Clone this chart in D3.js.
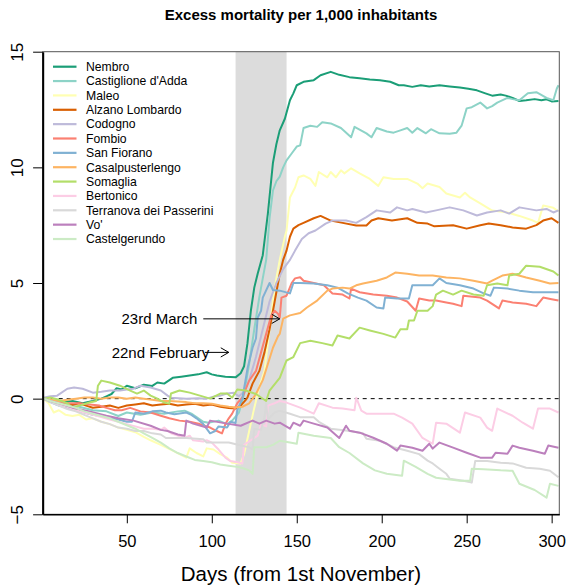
<!DOCTYPE html>
<html>
<head>
<meta charset="utf-8">
<script src="https://cdn.jsdelivr.net/npm/d3@7"></script>
<style>
  body { margin: 0; background: #fff; }
  svg { display: block; }
  text { font-family: "Liberation Sans", Arial, Helvetica, sans-serif; fill: #000; }
</style>
</head>
<body>
<svg id="chart" width="567" height="586"></svg>
<script>
// Cumulative excess mortality per 1,000 inhabitants, by day since 1 November.
// Each series is a list of [day, value] readings.
const municipalities = [
  "Nembro", "Castiglione d'Adda", "Maleo", "Alzano Lombardo", "Codogno", "Fombio",
  "San Fiorano", "Casalpusterlengo", "Somaglia", "Bertonico",
  "Terranova dei Passerini", "Vo'", "Castelgerundo"
];
const palette = [
  "#1B9E77", "#8DD3C7", "#FFFFB3", "#D95F02", "#BEBADA", "#FB8072",
  "#80B1D3", "#FDB462", "#B3DE69", "#FCCDE5", "#D9D9D9", "#BC80BD", "#CCEBC5"
];

const nembro = [[1,0],[6,-0.1],[12,-0.15],[18,-0.1],[24,-0.2],[30,-0.1],[35,0.0],[38,0.1],[41,0.2],[44,0.45],[47,0.4],[50,0.56],[55,0.45],[60,0.6],[65,0.55],[68,0.7],[72,0.65],[77,0.9],[82,0.95],[87,1.0],[92,1.05],[97,1.14],[100,1.05],[103,1.0],[108,0.95],[114,0.92],[117,1.1],[119,1.4],[121,2.4],[123,3.8],[125,4.8],[127,5.4],[130,6.2],[133,8.0],[136,10.2],[138,11.0],[140,11.6],[143,12.1],[146,12.9],[148,13.2],[150,13.55],[154,13.7],[160,13.77],[164,13.98],[170,14.13],[175,14.0],[181,13.9],[187,13.85],[193,13.8],[199,13.77],[205,13.7],[210,13.55],[213,13.55],[218,13.48],[223,13.55],[228,13.5],[234,13.55],[240,13.5],[246,13.45],[251,13.4],[256,13.33],[261,13.2],[265,13.1],[270,13.15],[273,13.1],[277,13.0],[281,12.87],[285,12.9],[290,12.95],[294,12.9],[297,12.94],[300,12.85],[304,12.87]];

const castiglione = [[1,0],[8,-0.15],[15,-0.3],[22,-0.35],[30,-0.5],[38,-0.55],[45,-0.75],[50,-0.6],[58,-0.7],[65,-0.6],[72,-0.65],[80,-0.55],[84,-0.52],[88,-0.65],[91,-0.8],[95,-1.0],[98,-1.04],[104,-0.95],[109,-1.1],[112,-0.95],[116,-0.6],[119,0.2],[122,1.5],[125,3.0],[128,4.4],[130,5.2],[132,6.0],[134,7.8],[136,9.0],[138,9.4],[140,9.6],[142,10.0],[144,10.3],[147,10.6],[150,10.9],[152,10.95],[154,11.7],[158,11.8],[162,11.75],[165,11.95],[170,11.9],[176,11.7],[182,11.3],[184,11.75],[191,11.47],[194,11.3],[197,11.7],[203,11.55],[207,11.5],[211,11.6],[215,11.7],[218,11.5],[221,11.7],[226,11.47],[229,11.65],[234,11.47],[240,11.45],[244,11.5],[247,11.8],[250,12.55],[253,12.6],[258,12.8],[262,12.55],[265,12.65],[268,12.8],[274,13.0],[277,12.95],[281,12.9],[286,13.2],[291,13.25],[297,13.0],[301,12.9],[303,13.4],[304,13.55]];

const maleo = [[1,0],[4,-0.2],[7,-0.6],[10,-0.5],[14,-0.7],[18,-0.75],[22,-0.7],[26,-0.9],[30,-0.85],[35,-1.0],[40,-1.1],[45,-1.25],[50,-1.35],[55,-1.45],[60,-1.65],[64,-1.8],[70,-2.0],[77,-2.25],[81,-2.4],[85,-2.55],[87,-2.15],[91,-2.35],[95,-2.5],[97,-2.15],[101,-2.2],[105,-2.4],[109,-2.55],[112,-2.77],[117,-2.8],[119,-2.4],[122,-1.4],[125,-0.4],[128,0.5],[131,1.2],[134,3.0],[137,4.8],[140,6.0],[143,7.0],[144,7.27],[146,8.7],[149,9.13],[151,9.57],[154,9.65],[158,9.5],[161,9.2],[163,9.8],[168,9.57],[170,9.8],[173,9.57],[176,9.87],[178,9.74],[182,9.96],[187,9.74],[193,9.5],[198,9.2],[201,9.57],[207,9.5],[215,9.5],[221,9.3],[224,9.1],[227,9.3],[234,9.15],[238,8.87],[246,8.7],[249,8.9],[252,8.7],[258,8.44],[265,8.13],[274,8.05],[281,7.9],[289,7.7],[292,7.6],[295,8.35],[301,8.25],[304,8.1]];

const alzano = [[1,0],[5,-0.1],[10,-0.15],[14,-0.2],[18,-0.26],[22,-0.2],[26,-0.3],[30,-0.39],[35,-0.35],[40,-0.3],[45,-0.4],[50,-0.3],[55,-0.25],[60,-0.2],[65,-0.3],[70,-0.25],[75,-0.22],[80,-0.3],[85,-0.25],[90,-0.22],[95,-0.3],[100,-0.25],[105,-0.35],[110,-0.4],[114,-0.43],[117,-0.3],[120,-0.05],[121,0.05],[124,0.65],[128,1.2],[131,2.0],[134,3.0],[137,4.2],[140,5.4],[142,6.0],[144,6.4],[146,7.0],[148,7.35],[151,7.5],[154,7.6],[160,7.8],[164,7.9],[170,7.7],[177,7.6],[185,7.49],[191,7.49],[194,7.7],[198,7.8],[206,7.7],[215,7.8],[221,7.6],[227,7.57],[231,7.45],[242,7.5],[250,7.35],[258,7.5],[263,7.57],[270,7.5],[277,7.4],[285,7.35],[291,7.5],[295,7.7],[300,7.8],[304,7.6]];

const codogno = [[1,0.04],[5,0.1],[9,0.13],[15,0.43],[19,0.48],[24,0.43],[30,0.26],[35,0.3],[40,0.35],[46,0.35],[50,0.4],[54,0.43],[58,0.56],[64,0.48],[70,0.35],[74,0.13],[76,0.04],[85,0.0],[92,0.02],[97,0.0],[102,0.1],[105,0.13],[109,0.22],[113,0.25],[116,0.1],[119,0.3],[122,0.8],[126,1.8],[130,3.0],[134,4.2],[138,5.0],[142,5.6],[146,6.0],[149,6.4],[153,6.9],[157,7.15],[161,7.27],[167,7.57],[171,7.7],[179,7.7],[185,7.6],[191,7.85],[197,8.14],[205,8.05],[209,8.27],[215,8.14],[218,8.2],[226,8.05],[232,8.14],[240,8.27],[248,8.14],[256,7.92],[262,8.05],[270,8.14],[275,8.0],[281,8.27],[291,8.14],[297,8.2],[301,8.05],[304,8.14]];

const fombio = [[1,0],[5,-0.1],[10,-0.15],[15,-0.2],[22,-0.2],[28,-0.25],[34,-0.3],[38,-0.4],[43,-0.5],[47,-0.5],[52,-0.4],[58,-0.55],[64,-0.6],[70,-0.74],[75,-0.85],[81,-0.95],[87,-1.0],[93,-1.1],[99,-1.25],[103,-1.4],[106,-1.5],[108,-1.1],[110,-0.85],[112,-0.65],[115,-0.2],[118,0.05],[122,0.78],[126,1.2],[129,2.0],[132,2.8],[135,3.6],[137,3.8],[139,3.67],[140,3.5],[141,4.37],[144,4.45],[147,5.0],[149,5.2],[152,5.25],[154,5.1],[160,5.0],[166,4.9],[171,4.55],[177,4.5],[181,4.33],[182,4.76],[187,4.6],[195,4.5],[203,4.45],[209,4.37],[215,4.2],[220,3.8],[222,4.33],[228,4.24],[232,4.24],[238,4.16],[242,4.1],[247,4.0],[248,4.45],[258,4.37],[262,4.24],[269,3.9],[271,4.24],[277,4.16],[285,4.1],[291,4.0],[295,4.37],[300,4.3],[304,4.24]];

const sanFiorano = [[1,0],[5,-0.15],[10,-0.3],[15,-0.4],[20,-0.5],[25,-0.6],[30,-0.7],[35,-0.75],[40,-0.85],[45,-0.9],[50,-1.0],[53,-1.0],[55,-0.6],[60,-0.65],[65,-0.55],[70,-0.52],[73,-0.6],[78,-0.67],[85,-0.6],[88,-0.7],[91,-0.85],[95,-1.1],[99,-1.5],[102,-1.4],[104,-1.2],[109,-1.25],[111,-1.0],[114,-1.05],[115,-0.5],[118,0.0],[121,1.3],[124,2.2],[126,2.6],[127,3.5],[129,3.8],[130,4.37],[134,5.0],[136,4.7],[140,4.67],[146,4.55],[148,5.0],[152,5.0],[160,4.98],[168,4.9],[174,4.8],[180,4.55],[186,4.37],[191,4.24],[197,3.94],[201,3.9],[202,4.37],[209,4.33],[216,4.33],[218,4.9],[222,4.9],[230,4.9],[234,5.2],[238,5.0],[246,4.9],[254,4.76],[260,4.55],[264,4.45],[266,4.8],[274,4.76],[281,4.67],[289,4.6],[297,4.6],[304,4.6]];

const casalpusterlengo = [[1,0],[5,-0.05],[10,-0.1],[15,-0.05],[20,0.0],[25,0.05],[30,0.05],[35,0.0],[40,0.05],[45,0.05],[50,0.0],[55,0.05],[60,0.0],[65,-0.05],[70,-0.1],[75,-0.1],[80,-0.12],[85,-0.15],[90,-0.2],[95,-0.2],[100,-0.22],[105,-0.3],[110,-0.35],[114,-0.38],[118,-0.35],[122,-0.2],[126,0.2],[130,0.8],[133,1.5],[136,2.2],[139,2.7],[140,2.8],[142,3.46],[146,3.6],[152,3.7],[156,3.94],[162,4.24],[168,4.67],[171,4.76],[177,4.8],[181,4.76],[185,4.9],[189,4.98],[197,5.1],[203,5.24],[208,5.45],[215,5.4],[222,5.32],[230,5.32],[238,5.24],[246,5.2],[254,5.1],[262,4.98],[265,5.1],[271,5.32],[277,5.4],[285,5.24],[293,5.1],[299,4.98],[304,5.0]];

const somaglia = [[1,0],[5,0.05],[10,-0.05],[15,-0.2],[18,-0.39],[22,-0.3],[28,-0.17],[32,-0.1],[33,0.56],[35,0.78],[40,0.7],[46,0.56],[52,0.35],[56,0.22],[60,0.35],[64,0.13],[68,0.0],[72,-0.17],[75,-0.22],[76,0.22],[81,0.35],[87,0.26],[93,0.13],[99,0.0],[105,0.22],[109,0.22],[112,0.04],[115,0.4],[120,0.35],[126,0.2],[132,-0.1],[134,0.35],[140,0.9],[144,1.65],[148,1.8],[152,2.4],[158,2.5],[165,2.4],[171,2.3],[174,2.73],[181,2.6],[187,3.07],[193,2.95],[201,2.8],[208,2.64],[211,3.0],[215,3.0],[216,3.38],[219,3.38],[221,3.8],[227,3.8],[230,4.0],[232,4.5],[236,4.67],[242,4.5],[247,4.67],[254,4.5],[260,4.45],[262,4.9],[268,4.98],[274,4.9],[275,5.32],[281,5.4],[285,5.75],[293,5.7],[301,5.5],[304,5.32]];

const bertonico = [[1,0],[5,-0.1],[10,-0.25],[15,-0.35],[20,-0.5],[25,-0.6],[30,-0.7],[35,-0.8],[40,-0.9],[45,-1.0],[50,-1.1],[55,-1.2],[60,-1.3],[65,-1.3],[70,-1.35],[72,-1.25],[76,-1.5],[80,-1.6],[84,-1.7],[87,-1.6],[89,-1.8],[95,-1.85],[97,-1.8],[100,-1.9],[104,-2.2],[108,-2.55],[111,-2.7],[115,-2.75],[118,-2.8],[119,-2.0],[123,-1.8],[127,-1.6],[129,-1.1],[132,-1.2],[133,-0.3],[137,-0.2],[140,-0.1],[144,-0.17],[152,-0.39],[160,-0.65],[163,-0.2],[171,-0.39],[177,-0.43],[184,-0.5],[185,0.04],[188,-0.52],[191,-0.65],[199,-0.65],[207,-0.65],[212,-0.82],[218,-1.08],[224,-1.7],[230,-1.95],[232,-1.04],[238,-1.08],[246,-1.47],[249,-0.6],[258,-0.82],[262,-1.25],[265,-1.39],[268,-0.43],[277,-0.74],[283,-1.04],[289,-1.3],[292,-0.43],[299,-0.43],[304,-0.6]];

const terranova = [[1,0],[5,-0.15],[10,-0.3],[15,-0.45],[20,-0.55],[25,-0.7],[30,-0.85],[35,-1.0],[40,-1.1],[45,-1.25],[50,-1.3],[55,-1.4],[60,-1.4],[65,-1.5],[70,-1.55],[73,-1.7],[85,-1.7],[95,-1.75],[97,-1.9],[110,-1.9],[116,-2.0],[122,-2.1],[124,-2.2],[125,-1.3],[129,-1.35],[131,-0.8],[132,-0.2],[133,-0.9],[137,-0.6],[140,-0.52],[146,-0.65],[152,-0.8],[160,-0.8],[163,-1.0],[170,-1.3],[180,-1.39],[189,-1.5],[191,-1.73],[199,-1.82],[207,-2.1],[215,-2.25],[222,-2.4],[227,-2.68],[230,-2.8],[234,-3.03],[238,-3.25],[240,-3.46],[248,-3.55],[253,-3.63],[255,-2.7],[262,-2.7],[270,-2.77],[277,-2.8],[285,-2.99],[293,-3.03],[299,-3.12],[304,-3.4]];

const vo = [[1,0],[5,-0.1],[10,-0.2],[18,-0.39],[28,-0.55],[38,-0.74],[45,-0.85],[54,-0.95],[64,-1.17],[70,-1.35],[74,-1.4],[80,-1.55],[84,-1.6],[85,-0.95],[89,-1.08],[97,-1.25],[99,-0.95],[109,-1.08],[117,-1.17],[124,-0.95],[128,-1.08],[132,-0.95],[137,-1.08],[140,-1.04],[146,-1.3],[148,-1.04],[152,-1.17],[154,-0.95],[160,-1.08],[168,-1.25],[175,-1.7],[179,-1.17],[181,-1.39],[187,-1.47],[195,-1.69],[203,-1.95],[209,-2.25],[211,-2.03],[218,-2.12],[224,-2.25],[228,-1.95],[230,-2.16],[234,-1.9],[242,-2.12],[250,-2.34],[258,-2.55],[265,-2.55],[267,-2.34],[274,-2.38],[277,-2.03],[281,-2.12],[289,-2.25],[296,-2.38],[298,-2.03],[304,-2.12]];

const castelgerundo = [[1,0],[5,-0.1],[10,-0.2],[15,-0.3],[20,-0.4],[25,-0.55],[30,-0.65],[35,-0.75],[40,-0.85],[45,-1.0],[50,-1.15],[55,-1.3],[60,-1.5],[65,-1.7],[70,-1.9],[75,-2.15],[80,-2.35],[85,-2.5],[90,-2.65],[95,-2.7],[100,-2.75],[105,-2.85],[110,-2.9],[115,-2.95],[118,-3.0],[122,-3.1],[124,-3.25],[125,-2.1],[132,-2.1],[136,-2.0],[140,-1.82],[146,-1.9],[150,-1.95],[151,-1.47],[160,-1.6],[170,-1.7],[175,-2.1],[181,-2.35],[189,-2.8],[196,-3.1],[203,-3.25],[212,-3.33],[213,-2.68],[220,-2.95],[227,-3.25],[232,-3.42],[246,-3.55],[252,-3.55],[253,-3.03],[260,-3.05],[270,-3.1],[277,-3.12],[281,-3.68],[290,-3.95],[297,-4.28],[299,-3.68],[304,-3.77]];

const seriesValues = [nembro, castiglione, maleo, alzano, codogno, fombio, sanFiorano,
  casalpusterlengo, somaglia, bertonico, terranova, vo, castelgerundo];

const xTicks = [50, 100, 150, 200, 250, 300];
const yTicks = [-5, 0, 5, 10, 15];
const xDomain = [0.5, 304.5];
const yDomain = [-5, 15];
const lockdownWindow = [114, 144];   // 22 February to 23 March
const annotations = [
  { label: "22nd February", y: 2.0, from: 96, to: 110, textAt: 98.5 },
  { label: "23rd March",    y: 3.45, from: 95, to: 140, textAt: 91.5 }
];

const svg = d3.select("#chart");
const plotLeft = 42.7, plotRight = 559.3, plotTop = 51.7, plotBottom = 514.3;
const x = d3.scaleLinear().domain(xDomain).range([plotLeft, plotRight]);
const y = d3.scaleLinear().domain(yDomain).range([plotBottom, plotTop]);

svg.append("defs").append("clipPath").attr("id", "plot-clip")
  .append("rect").attr("x", plotLeft).attr("y", plotTop)
  .attr("width", plotRight - plotLeft).attr("height", plotBottom - plotTop);

// shaded period
svg.append("rect")
  .attr("x", x(lockdownWindow[0])).attr("y", plotTop)
  .attr("width", x(lockdownWindow[1]) - x(lockdownWindow[0]))
  .attr("height", plotBottom - plotTop)
  .attr("fill", "#DCDCDC");

// zero reference
svg.append("line")
  .attr("x1", plotLeft).attr("x2", plotRight)
  .attr("y1", y(0)).attr("y2", y(0))
  .attr("stroke", "#000").attr("stroke-width", 1)
  .attr("stroke-dasharray", "4,4");

// series
const line = d3.line().x(d => x(d[0])).y(d => y(d[1]));
svg.append("g").attr("clip-path", "url(#plot-clip)")
  .selectAll("path").data(seriesValues).join("path")
  .attr("d", line)
  .attr("fill", "none")
  .attr("stroke", (d, i) => palette[i])
  .attr("stroke-width", 2)
  .attr("stroke-linejoin", "round");

// plot box
svg.append("rect")
  .attr("x", plotLeft).attr("y", plotTop)
  .attr("width", plotRight - plotLeft).attr("height", plotBottom - plotTop)
  .attr("fill", "none").attr("stroke", "#555").attr("stroke-width", 1);

// axes
const xAxis = svg.append("g").attr("transform", `translate(0,${plotBottom})`)
  .call(d3.axisBottom(x).tickValues(xTicks).tickSize(9).tickSizeOuter(0).tickPadding(12));
xAxis.select(".domain").attr("stroke", "#000").attr("stroke-width", 1.5);
xAxis.selectAll(".tick line").attr("stroke", "#000");
xAxis.selectAll("text").attr("font-size", 16.5).attr("font-family", null);

const yAxis = svg.append("g").attr("transform", `translate(${plotLeft},0)`)
  .call(d3.axisLeft(y).tickValues(yTicks).tickSize(9.6).tickSizeOuter(0).tickFormat(d3.format("d")));
yAxis.select(".domain").attr("stroke", "#000").attr("stroke-width", 2);
yAxis.selectAll(".tick line").attr("stroke", "#000");
yAxis.selectAll("text")
  .attr("font-size", 17).attr("font-family", null)
  .attr("x", null).attr("dy", null)
  .attr("text-anchor", "middle")
  .attr("transform", "translate(-19.5,0) rotate(-90)")
  .text(d => d < 0 ? "\u2212" + Math.abs(d) : d);

// annotations
annotations.forEach(a => {
  const yy = y(a.y), x0 = x(a.from), x1 = x(a.to);
  svg.append("line").attr("x1", x0).attr("x2", x1).attr("y1", yy).attr("y2", yy)
    .attr("stroke", "#000").attr("stroke-width", 1);
  svg.append("path")
    .attr("d", `M${x1 - 8},${yy - 4.6}L${x1},${yy}L${x1 - 8},${yy + 4.6}`)
    .attr("fill", "none").attr("stroke", "#000").attr("stroke-width", 1);
  svg.append("text").attr("x", x(a.textAt)).attr("y", yy + 5.4)
    .attr("text-anchor", "end").attr("font-size", 15).text(a.label);
});

// legend
const legend = svg.append("g");
municipalities.forEach((name, i) => {
  const ly = 66.7 + i * 14.36;
  legend.append("line").attr("x1", 53).attr("x2", 76.5).attr("y1", ly).attr("y2", ly)
    .attr("stroke", palette[i]).attr("stroke-width", 2.2);
  legend.append("text").attr("x", 86).attr("y", ly + 4.3)
    .attr("font-size", 12.2).text(name);
});

// titles
svg.append("text").attr("x", (plotLeft + plotRight) / 2).attr("y", 20)
  .attr("text-anchor", "middle").attr("font-size", 15).attr("font-weight", "bold")
  .text("Excess mortality per 1,000 inhabitants");
svg.append("text").attr("x", (plotLeft + plotRight) / 2).attr("y", 581)
  .attr("text-anchor", "middle").attr("font-size", 20.5)
  .text("Days (from 1st November)");
</script>
</body>
</html>
